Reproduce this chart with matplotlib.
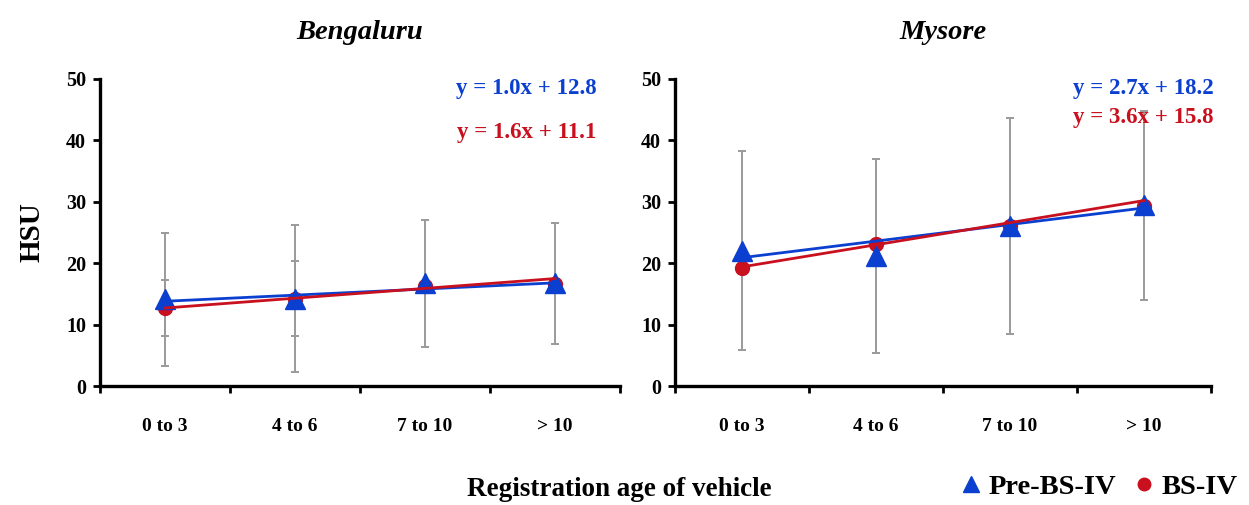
import numpy as np
import matplotlib
matplotlib.use('Agg')
import matplotlib.pyplot as plt
from matplotlib.lines import Line2D

plt.rcParams['font.family'] = ['Liberation Serif', 'DejaVu Serif']
plt.rcParams['font.weight'] = 'bold'
plt.rcParams['axes.titleweight'] = 'bold'
plt.rcParams['axes.labelweight'] = 'bold'

ages = ['0 to 3', '4 to 6', '7 to 10', '> 10']

# Bengaluru
blr_pre = [14.1, 14.2, 16.7, 16.7]
blr_pre_err = [10.9, 12.0, 10.3, 9.9]
blr_bs4 = [12.7, 14.2, 16.3, 16.6]
blr_bs4_err = [4.6, 6.1, np.nan, np.nan]
blr_fit_pre = (1.0, 12.8)
blr_fit_bs4 = (1.6, 11.1)

# Mysore
mys_pre = [22.0, 21.2, 26.0, 29.4]
mys_pre_err = [16.2, 15.8, 17.6, 15.4]
mys_bs4 = [19.2, 23.1, 26.1, 29.3]
mys_bs4_err = [np.nan, np.nan, np.nan, np.nan]
mys_fit_pre = (2.7, 18.2)
mys_fit_bs4 = (3.6, 15.8)

blue = '#0b3fd0'
red = '#c8101e'
grey = '#9a9a9a'

W, H = 1249, 505
fig = plt.figure(figsize=(W / 100, H / 100), dpi=100)


def panel(rect, title, pre, pre_err, bs4, bs4_err, fit_pre, fit_bs4, eq_pos):
    ax = fig.add_axes(rect)
    x = np.arange(len(ages))
    ax.errorbar(x, pre, yerr=pre_err, fmt='none', ecolor=grey, elinewidth=1.4,
                capsize=3, capthick=1.4, zorder=1)
    ax.errorbar(x, bs4, yerr=bs4_err, fmt='none', ecolor=grey, elinewidth=1.4,
                capsize=3, capthick=1.4, zorder=1)
    ax.plot(x, bs4, 'o', color=red, markersize=10, zorder=3)
    ax.plot(x, pre, '^', color=blue, markersize=15, zorder=4)
    # linear trend lines from the fitted equations (x = 1..4)
    xs = x + 1
    ax.plot(x, fit_pre[0] * xs + fit_pre[1], color=blue, lw=2.0, zorder=5)
    ax.plot(x, fit_bs4[0] * xs + fit_bs4[1], color=red, lw=2.0, zorder=5)

    ax.set_xlim(-0.5, len(ages) - 0.5)
    ax.set_ylim(0, 50)
    ax.set_yticks(range(0, 51, 10))
    ax.set_xticks(np.arange(len(ages) + 1) - 0.5)
    ax.set_xticklabels([])
    ax.set_xticks(x, minor=True)
    ax.set_xticklabels(ages, minor=True)
    ax.tick_params(axis='x', which='minor', length=0, pad=23, labelsize=14)
    ax.tick_params(axis='x', which='major', length=5, width=2)
    ax.tick_params(axis='y', length=5, width=2, labelsize=14.5, pad=5)
    for s in ['top', 'right']:
        ax.spines[s].set_visible(False)
    for s in ['left', 'bottom']:
        ax.spines[s].set_linewidth(2.4)
    ax.set_title(title, style='italic', fontsize=20.5, pad=29)
    ax.text(eq_pos[0][0], eq_pos[0][1], 'y = {:.1f}x + {:.1f}'.format(*fit_pre),
            color=blue, fontsize=16.5, transform=ax.transAxes, ha='right', va='center')
    ax.text(eq_pos[1][0], eq_pos[1][1], 'y = {:.1f}x + {:.1f}'.format(*fit_bs4),
            color=red, fontsize=16.5, transform=ax.transAxes, ha='right', va='center')
    return ax


ax1 = panel([100 / W, 119 / H, 520 / W, 307 / H], 'Bengaluru',
            blr_pre, blr_pre_err, blr_bs4, blr_bs4_err, blr_fit_pre, blr_fit_bs4,
            [(0.955, 0.97), (0.955, 0.825)])
ax1.set_ylabel('HSU', fontsize=21)
ax1.yaxis.set_label_coords(-0.105, 0.5)

ax2 = panel([675 / W, 119 / H, 536 / W, 307 / H], 'Mysore',
            mys_pre, mys_pre_err, mys_bs4, mys_bs4_err, mys_fit_pre, mys_fit_bs4,
            [(1.005, 0.97), (1.005, 0.875)])

fig.text(619 / W, 1 - 490 / H, 'Registration age of vehicle', fontsize=19.5,
         ha='center', va='center')

handles = [Line2D([], [], marker='^', color=blue, ls='none', markersize=11),
           Line2D([], [], marker='o', color=red, ls='none', markersize=9)]
fig.legend(handles, ['Pre-BS-IV', 'BS-IV'], loc='center right',
           bbox_to_anchor=(1.0, 1 - 487 / H), ncol=2, frameon=False,
           fontsize=20.5, handlelength=0.6, handletextpad=0.3, columnspacing=0.7,
           borderaxespad=0.0)

fig.savefig('out.png', dpi=100)
